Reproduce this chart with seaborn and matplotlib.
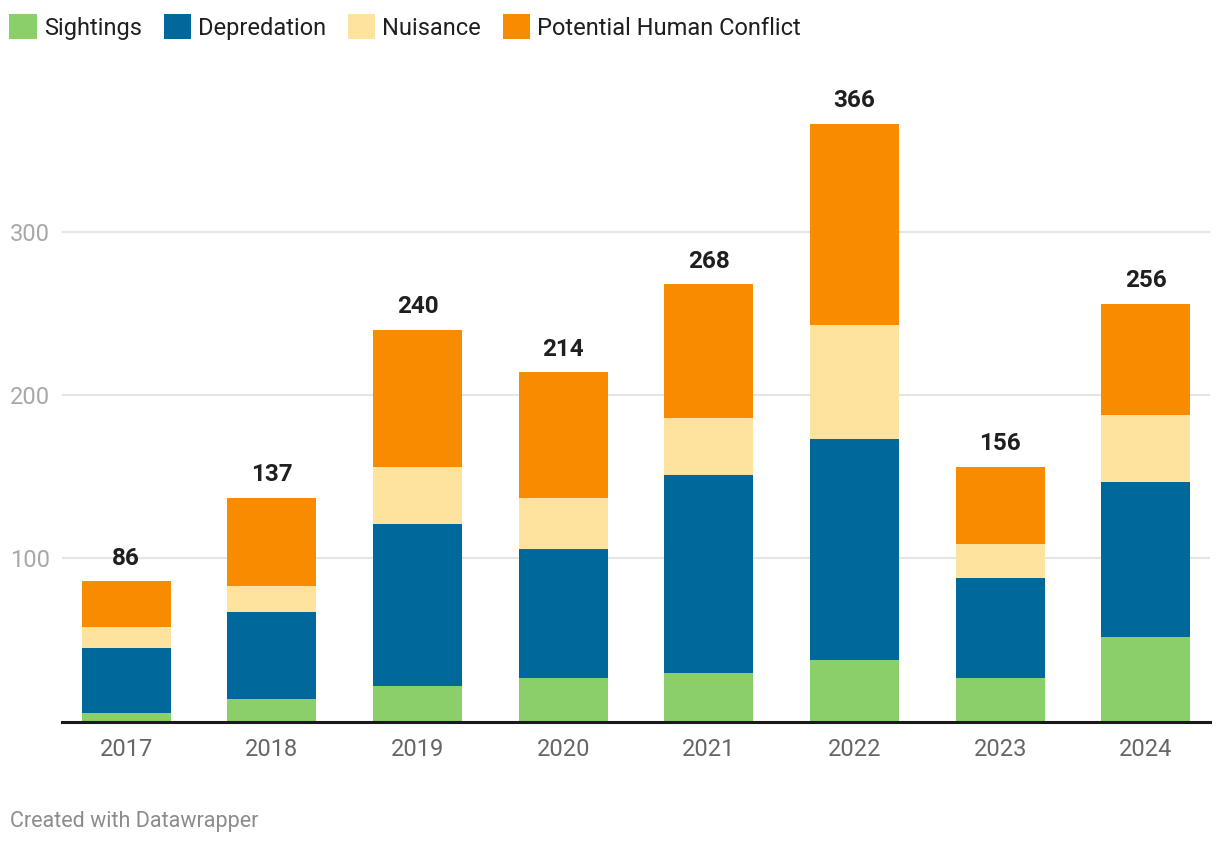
import matplotlib
matplotlib.use("Agg")
import matplotlib.pyplot as plt
import seaborn as sns
import numpy as np
from matplotlib.patches import Patch

years = ["2017", "2018", "2019", "2020", "2021", "2022", "2023", "2024"]
sightings = [5, 14, 22, 27, 30, 38, 27, 52]
depredation = [40, 53, 99, 79, 121, 135, 61, 95]
nuisance = [13, 16, 35, 31, 35, 70, 21, 41]
conflict = [28, 54, 84, 77, 82, 123, 47, 68]
series_names = ["Sightings", "Depredation", "Nuisance", "Potential Human Conflict"]
colors = ["#8acf69", "#00689a", "#fde39e", "#f98b00"]
yticks = [100, 200, 300]

sns.set_theme(style="white")
plt.rcParams["font.family"] = ["Roboto", "DejaVu Sans"]

W, H = 1220, 846
fig = plt.figure(figsize=(W / 100, H / 100), dpi=100)
left_px, right_px = 62, 1210
bottom_px, top_px = 721.6, 68.4
ax = fig.add_axes([left_px / W, 1 - bottom_px / H, (right_px - left_px) / W, (bottom_px - top_px) / H])

series = [sightings, depredation, nuisance, conflict]
bottom = np.zeros(len(years))
for name, vals, c in zip(series_names, series, colors):
    sns.barplot(x=years, y=vals, bottom=bottom, color=c, width=0.61,
                saturation=1, ax=ax, label=name, linewidth=0)
    bottom = bottom + np.array(vals)

totals = bottom
for i, t in enumerate(totals):
    ax.text(i, t + 7, f"{int(t)}", ha="center", va="bottom", fontsize=17.5,
            fontweight="bold", color="#1f1f1f")

ax.set_ylim(0, 400)
ax.set_xlim(-0.44, 7.44)
ax.set_yticks(yticks)
ax.set_yticklabels([str(v) for v in yticks])
ax.yaxis.grid(True, color="#e5e5e5", linewidth=1.5)
ax.set_axisbelow(True)
for s in ["top", "right", "left"]:
    ax.spines[s].set_visible(False)
ax.spines["bottom"].set_color("#1a1a1a")
ax.spines["bottom"].set_linewidth(2.2)
ax.tick_params(axis="y", length=0, pad=8.6, labelsize=17, labelcolor="#a8a8a8")
ax.tick_params(axis="x", length=0, pad=12, labelsize=17, labelcolor="#666666")
for lbl in ax.get_yticklabels():
    lbl.set_horizontalalignment("right")
ax.set_xlabel("")
ax.set_ylabel("")
if ax.get_legend() is not None:
    ax.get_legend().remove()

handles = [Patch(facecolor=c, edgecolor="none") for c in colors]
fig.legend(handles, series_names, loc="upper left", bbox_to_anchor=(0.0, 1 - 5 / H),
           ncol=4, frameon=False, fontsize=17, handlelength=1.15, handleheight=1.2,
           handletextpad=0.3, columnspacing=0.93, borderpad=0.25, borderaxespad=0.15,
           labelcolor="#1f1f1f")

fig.text(10 / W, 1 - 821 / H, "Created with Datawrapper", fontsize=15.5,
         color="#8c8c8c", ha="left", va="center")

fig.savefig("out.png", dpi=100, facecolor="white")
